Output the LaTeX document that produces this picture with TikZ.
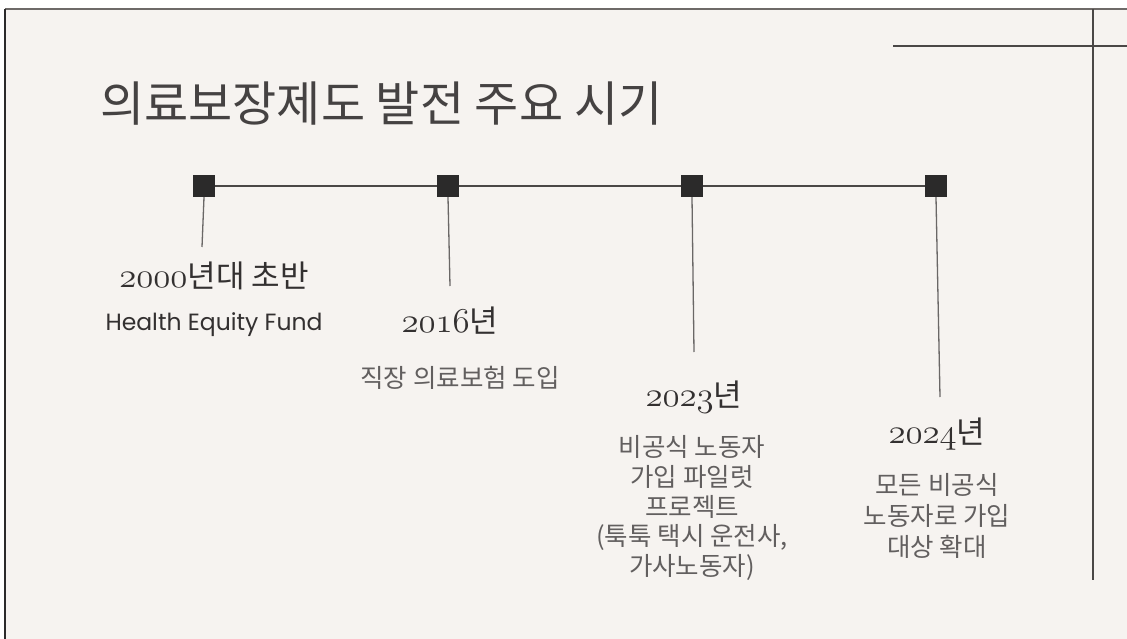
\documentclass[tikz,border=0pt]{standalone}
\usepackage{fontspec}
\newfontfamily\kr{Noto Sans CJK KR}
\newfontfamily\latinsans{Poppins}
\newcommand\osn[1]{\scalebox{1.4}{\fontencoding{OML}\fontfamily{cmm}\fontseries{m}\fontshape{it}\fontsize{24.88}{30}\selectfont #1}}
\newcommand\yrlabel[2]{\osn{#1}{\kr\fontsize{31}{36}\selectfont #2}}
\definecolor{bgcol}{HTML}{F6F3F0}
\definecolor{framecol}{HTML}{6E6A68}
\definecolor{linecol}{HTML}{4A4746}
\definecolor{stemcol}{HTML}{6A6766}
\definecolor{sqcol}{HTML}{2B2A2A}
\definecolor{titlecol}{HTML}{454242}
\definecolor{yearcol}{HTML}{333030}
\definecolor{desccol}{HTML}{625F5F}
\tikzset{
  tmarker/.style={fill=sqcol, draw=none, minimum size=22pt, inner sep=0pt},
  stem/.style={draw=stemcol, line width=1.3pt},
  axis/.style={draw=linecol, line width=1.8pt},
  deco/.style={draw=linecol, line width=1.8pt},
  yr/.style={text=yearcol, inner sep=0pt},
  desc/.style={text=desccol, inner sep=0pt, align=center},
}
\begin{document}
\begin{tikzpicture}[x=1pt,y=-1pt]
\useasboundingbox (0,0) rectangle (1127,639);
\fill[white] (0,0) rectangle (1127,639);
\fill[bgcol] (5,9) rectangle (1127,639);
\draw[framecol, line width=1.6pt] (5,9) -- (1127,9);
\draw[sqcol, line width=1.6pt] (5,9) -- (5,639);
% decorative corner lines
\coordinate (hA) at (893,46);
\coordinate (hB) at (1127,46);
\coordinate (vA) at (1093,9);
\coordinate (vB) at (1093,580);
\draw[deco] (hA) -- (hB);
\draw[deco] (vA) -- (vB);
% title
\node[anchor=west, inner sep=0pt, text=titlecol, font=\kr\fontsize{48}{56}\selectfont] (title) at (100,104) {의료보장제도 발전 주요 시기};
% markers
\node[tmarker] (m1) at (204,186) {};
\node[tmarker] (m2) at (448,186) {};
\node[tmarker] (m3) at (692,186) {};
\node[tmarker] (m4) at (936,186) {};
\draw[axis] (m1) -- (m2);
\draw[axis] (m2) -- (m3);
\draw[axis] (m3) -- (m4);
\coordinate (e1) at (202,247);
\coordinate (e2) at (450,286);
\coordinate (e3) at (694,352);
\coordinate (e4) at (940,397);
\draw[stem] (m1.south) -- (e1);
\draw[stem] (m2.south) -- (e2);
\draw[stem] (m3.south) -- (e3);
\draw[stem] (m4.south) -- (e4);
% labels
\node[yr] (y1) at (214,276) {\yrlabel{2000}{년대 초반}};
\node[inner sep=0pt, text=yearcol, font=\latinsans\fontsize{23.5}{28}\selectfont] (d1) at (214,325) {Health Equity Fund};
\node[yr] (y2) at (450,321) {\yrlabel{2016}{년}};
\node[desc, font=\kr\fontsize{25.5}{30}\selectfont] (d2) at (460,378) {직장 의료보험 도입};
\node[yr] (y3) at (694,397) {\yrlabel{2023}{년}};
\node[desc, font=\kr\fontsize{25.5}{29.8}\selectfont] (d3) at (692,508) {비공식 노동자\\가입 파일럿\\프로젝트\\(툭툭 택시 운전사,\\가사노동자)};
\node[yr] (y4) at (937,434) {\yrlabel{2024}{년}};
\node[desc, font=\kr\fontsize{25.5}{31}\selectfont] (d4) at (937,516) {모든 비공식\\노동자로 가입\\대상 확대};
\end{tikzpicture}
\end{document}
